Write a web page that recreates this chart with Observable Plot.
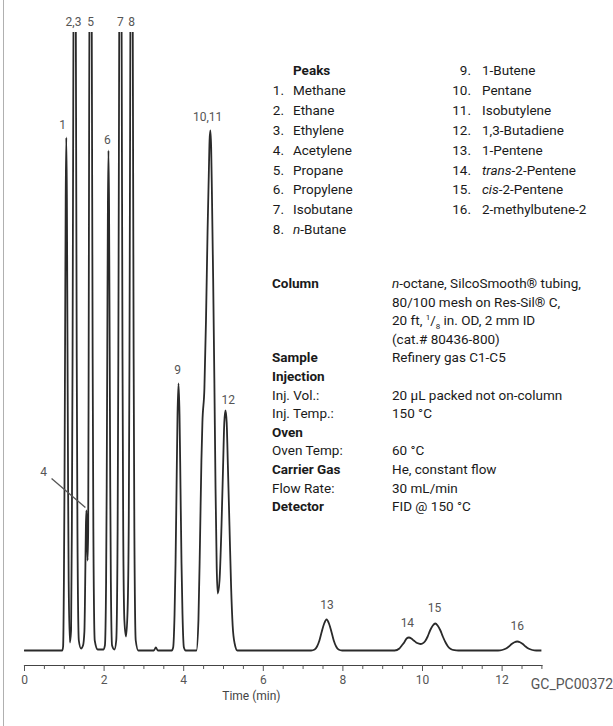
<!DOCTYPE html>
<html><head><meta charset="utf-8">
<script src="https://cdn.jsdelivr.net/npm/d3@7"></script>
<script src="https://cdn.jsdelivr.net/npm/@observablehq/plot@0.6"></script>
<style>
body{margin:0;background:#fff;}
#wrap{position:relative;width:613px;height:726px;overflow:hidden;font-family:Roboto,"Noto Sans",sans-serif;color:#1a1a1a;}
#border{position:absolute;left:3px;top:0;width:1px;height:726px;background:#b0b0b0}
.t{position:absolute;white-space:nowrap;font-size:13.5px;line-height:18px;}
.b{font-weight:700}
.num{text-align:right;}
#code{position:absolute;right:0;font-size:14px;color:#555;white-space:nowrap;}
sup,sub{font-size:8px;line-height:0}
</style>
</head><body>
<div id="wrap"><div id="border"></div><div id="chart"></div></div>
<script>
// ---- Chromatogram trace (time in min, detector signal) ----
const traceTime = [
  0, 0.95, 0.97, 0.99, 1.005, 1.02, 1.035, 1.05, 1.065, 1.08, 1.095, 1.11, 1.14,
  1.17, 1.19, 1.2075, 1.225, 1.2425, 1.26, 1.2775, 1.295, 1.3125, 1.33, 1.365, 1.42,
  1.47, 1.505, 1.5175, 1.53, 1.5425, 1.555, 1.5675, 1.585,
  1.6, 1.6125, 1.625, 1.6425, 1.66, 1.6775, 1.695, 1.7125, 1.73, 1.765, 1.84,
  1.98, 2.02, 2.05, 2.065, 2.08, 2.095, 2.11, 2.125, 2.14, 2.155, 2.17, 2.2, 2.26,
  2.305, 2.34, 2.3575, 2.375, 2.3925, 2.41, 2.4275, 2.445, 2.4625, 2.48, 2.51, 2.55,
  2.59, 2.62, 2.6375, 2.655, 2.6725, 2.69, 2.7075, 2.725, 2.7425, 2.76, 2.795, 2.86,
  3.25, 3.3, 3.35, 3.7,
  3.735, 3.77, 3.795, 3.82, 3.845, 3.87, 3.895, 3.92, 3.945, 3.97, 4.005, 4.05,
  4.32, 4.37, 4.41, 4.445, 4.47, 4.52, 4.56, 4.6, 4.63, 4.65, 4.67, 4.69, 4.71, 4.74, 4.77, 4.8, 4.83, 4.855,
  4.9, 4.95, 4.99, 5.02, 5.05, 5.08, 5.11, 5.15, 5.19, 5.23, 5.28, 5.35,
  7.2, 7.29, 7.35, 7.41, 7.47, 7.53, 7.59, 7.65, 7.71, 7.77, 7.83, 7.89, 7.98,
  9.3, 9.42, 9.48, 9.54, 9.6, 9.66, 9.72, 9.78, 9.84, 9.9, 9.95,
  10.0, 10.06, 10.13, 10.19, 10.26, 10.32, 10.38, 10.45, 10.51, 10.58, 10.64, 10.71, 10.8, 10.9,
  11.9, 12.0, 12.1, 12.17, 12.24, 12.31, 12.38, 12.45, 12.52, 12.59, 12.66, 12.76, 12.86, 13.0
];
const traceSignal = [
  0, 0, 4, 69, 166, 310, 452, 513, 452, 310, 166, 69, 8,
  20, 122, 292, 546, 794, 900, 794, 546, 292, 122, 10, 2,
  5, 19, 45, 85, 124, 140, 124, 90,
  120, 300, 546, 794, 900, 794, 546, 292, 122, 10, 1,
  1, 5, 68, 162, 303, 441, 500, 441, 303, 162, 68, 5, 1,
  10, 122, 292, 546, 794, 900, 794, 546, 292, 122, 30, 14,
  40, 130, 292, 546, 794, 900, 794, 546, 292, 122, 10, 0,
  0, 3, 0, 0,
  3, 36, 87, 162, 236, 267, 236, 162, 87, 36, 3, 0,
  0, 30, 110, 190, 228, 262, 330, 420, 475, 510, 520, 503, 455, 372, 272, 162, 82, 57,
  70, 125, 185, 228, 240, 228, 185, 125, 65, 25, 7, 0,
  0, 1, 4, 10, 19, 27, 31, 27, 19, 10, 4, 1, 0,
  0, 2, 5, 8, 12, 13, 12, 10, 8, 7, 6.5,
  7, 9, 14, 20, 25, 27, 25, 20, 14, 8, 4, 1.5, 0.3, 0,
  0, 0.5, 2, 4, 6.5, 8.3, 9, 8.3, 6.5, 4, 2, 0.5, 0, 0
];

// ---- Peak labels (text, time, label height) ----
const peakLabelText = ["1", "2,3", "5", "6", "7", "8", "9", "10,11", "12", "13", "14", "15", "16"];
const peakLabelTime = [0.955, 1.23, 1.66, 2.085, 2.41, 2.69, 3.85, 4.6, 5.12, 7.6, 9.62, 10.3, 12.38];
const peakLabelSignal = [525, 628, 628, 510, 628, 628, 280, 533, 250, 45, 27, 42, 24];

// Peak 4 annotation (label + leader)
const peak4Label = {text: "4", t: 0.48, v: 178};
const peak4Leader = {t1: 0.68, v1: 172, t2: 1.53, v2: 143};

// ---- Axis ----
const majorTicks = [0, 2, 4, 6, 8, 10, 12];
const minorTicks = [0.5, 1, 1.5, 2.5, 3, 3.5, 4.5, 5, 5.5, 6.5, 7, 7.5, 8.5, 9, 9.5, 10.5, 11, 11.5, 12.5, 13];
const xTitle = "Time (min)";

// ---- Peak list ----
const peakNumbers = ["1.", "2.", "3.", "4.", "5.", "6.", "7.", "8.", "9.", "10.", "11.", "12.", "13.", "14.", "15.", "16."];
const peakNames = ["Methane", "Ethane", "Ethylene", "Acetylene", "Propane", "Propylene", "Isobutane",
  "<i>n</i>-Butane", "1-Butene", "Pentane", "Isobutylene", "1,3-Butadiene", "1-Pentene",
  "<i>trans</i>-2-Pentene", "<i>cis</i>-2-Pentene", "2-methylbutene-2"];

// ---- Conditions ----
const condLabels = ["Column", "", "", "", "Sample", "Injection", "Inj. Vol.:", "Inj. Temp.:", "Oven", "Oven Temp:", "Carrier Gas", "Flow Rate:", "Detector"];
const condBold = [1, 0, 0, 0, 1, 1, 0, 0, 1, 0, 1, 0, 1];
const condValues = ["<i>n</i>-octane, SilcoSmooth® tubing,", "80/100 mesh on Res-Sil® C,",
  "20 ft, <sup>1</sup>/<sub>8</sub> in. OD, 2 mm ID", "(cat.# 80436-800)", "Refinery gas C1-C5", "",
  "20 µL packed not on-column", "150 °C", "", "60 °C", "He, constant flow", "30 mL/min", "FID @ 150 °C"];
const figureCode = "GC_PC00372";

const trace = traceTime.map((t, i) => ({t, v: traceSignal[i]}));
const labels = peakLabelText.map((s, i) => ({s, t: peakLabelTime[i], v: peakLabelSignal[i]}));

const chart = Plot.plot({
  width: 613, height: 726,
  marginLeft: 24, marginRight: 71.6, marginTop: 32, marginBottom: 61,
  x: {domain: [0, 13]},
  y: {domain: [-15, 618], axis: null},
  style: {fontFamily: "Roboto, sans-serif", background: "transparent"},
  marks: [
    Plot.frame({anchor: "bottom", stroke: "#444", strokeWidth: 1.2}),
    Plot.axisX({ticks: minorTicks, tickFormat: () => "", tickSize: 4, stroke: "#555", label: null}),
    Plot.axisX({ticks: majorTicks, tickSize: 6, tickPadding: 4, fontSize: 12, fill: "#555", stroke: "#555", label: null}),
    Plot.text([xTitle], {x: 5.7, y: -15, dy: 31, fontSize: 12, fill: "#444", text: d => d}),
    Plot.line(trace, {x: "t", y: "v", curve: "monotone-x", stroke: "#2a2a2a", strokeWidth: 1.8, clip: true}),
    Plot.text(labels, {x: "t", y: "v", text: "s", fontSize: 12, fill: "#555"}),
    Plot.text([peak4Label], {x: "t", y: "v", text: "text", fontSize: 12, fill: "#555"}),
    Plot.link([peak4Leader], {x1: "t1", y1: "v1", x2: "t2", y2: "v2", stroke: "#555", strokeWidth: 1.3})
  ]
});
document.getElementById("chart").appendChild(chart);

const wrap = document.getElementById("wrap");
function add(html, cls, style) {
  const d = document.createElement("div");
  d.className = "t " + cls;
  d.innerHTML = html;
  Object.assign(d.style, style);
  wrap.appendChild(d);
}
// Peak list
const rowH = 19.9, row0 = 70;
add("Peaks", "b", {left: "293px", top: (row0 - 9) + "px"});
peakNumbers.forEach((n, i) => {
  const col = i < 8 ? 0 : 1;
  const r = col === 0 ? i + 1 : i - 8;
  const y = row0 + r * rowH - 9;
  const numRight = col === 0 ? 284 : 471;
  const nameLeft = col === 0 ? 293 : 482;
  add(n, "num", {left: (numRight - 30) + "px", width: "30px", top: y + "px"});
  add(peakNames[i], "", {left: nameLeft + "px", top: y + "px"});
});
// Conditions
const cRow0 = 283, cRowH = 18.6;
condLabels.forEach((l, i) => {
  const y = cRow0 + i * cRowH - 9;
  if (l) add(l, condBold[i] ? "b" : "", {left: "272px", top: y + "px"});
  if (condValues[i]) add(condValues[i], "", {left: "392px", top: y + "px"});
});
const c = document.createElement("div");
c.id = "code"; c.textContent = figureCode; c.style.top = "676px";
wrap.appendChild(c);
</script>
</body></html>
